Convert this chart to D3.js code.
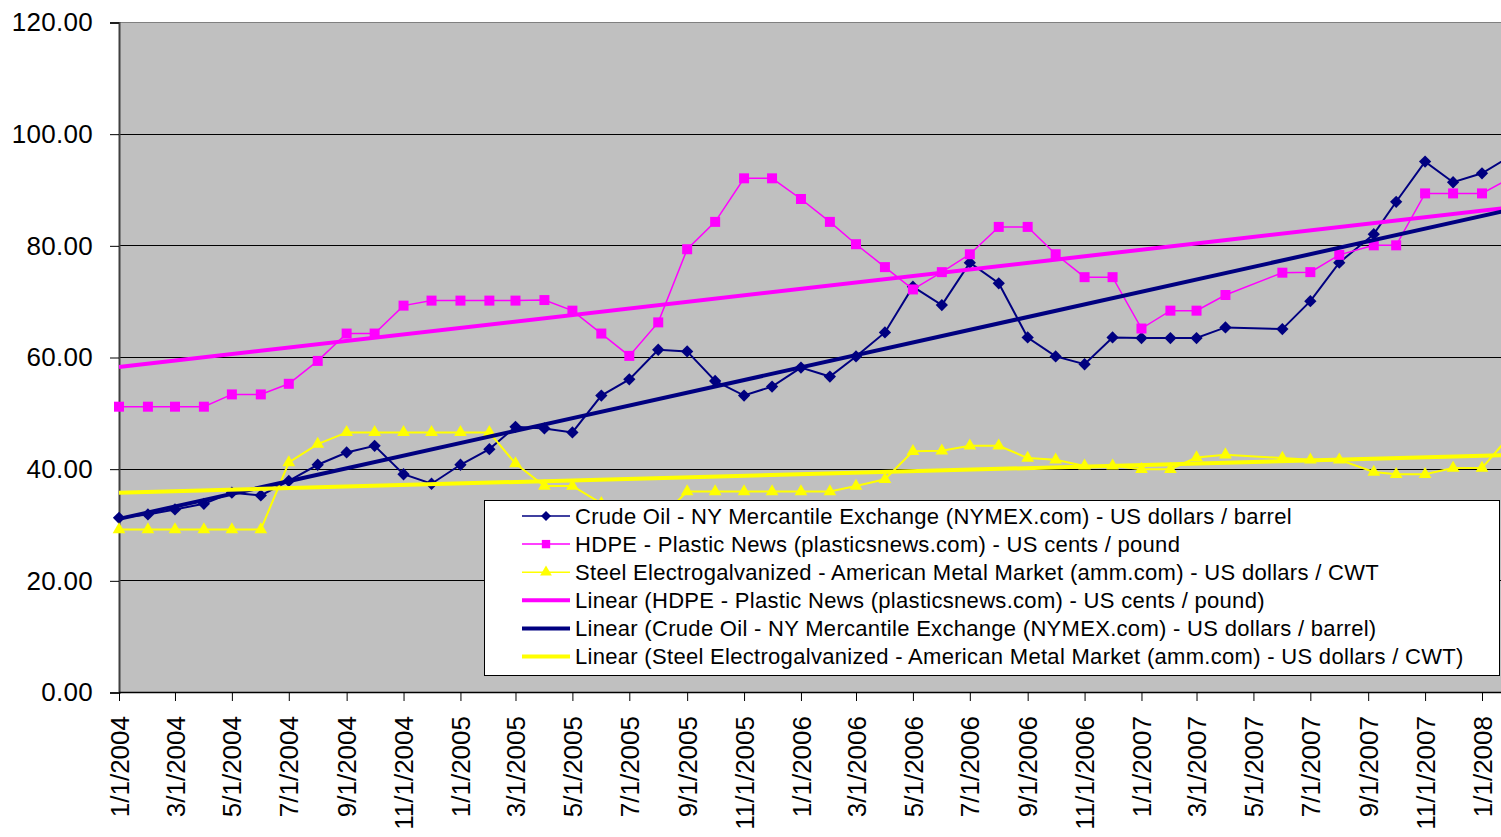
<!DOCTYPE html>
<html>
<head>
<meta charset="utf-8">
<script src="https://cdn.jsdelivr.net/npm/d3@7"></script>
<style>
  body { margin: 0; background: #fff; }
  svg { display: block; overflow: hidden; }
  text { font-family: "Liberation Sans", Arial, sans-serif; fill: #000; }
</style>
</head>
<body>
<svg id="chart"></svg>
<script>
// monthly observation dates (May 2007 missing, Sept 2007 reading taken on the 7th)
const dates = [
  "2004-01-01","2004-02-01","2004-03-01","2004-04-01","2004-05-01","2004-06-01",
  "2004-07-01","2004-08-01","2004-09-01","2004-10-01","2004-11-01","2004-12-01",
  "2005-01-01","2005-02-01","2005-03-01","2005-04-01","2005-05-01","2005-06-01",
  "2005-07-01","2005-08-01","2005-09-01","2005-10-01","2005-11-01","2005-12-01",
  "2006-01-01","2006-02-01","2006-03-01","2006-04-01","2006-05-01","2006-06-01",
  "2006-07-01","2006-08-01","2006-09-01","2006-10-01","2006-11-01","2006-12-01",
  "2007-01-01","2007-02-01","2007-03-01","2007-04-01","2007-06-01",
  "2007-07-01","2007-08-01","2007-09-07","2007-10-01","2007-11-01","2007-12-01",
  "2008-01-01","2008-02-01"
]

const crudeOil = [
  31.2, 31.8, 32.7, 33.7, 35.7, 35.2, 37.8, 40.7, 42.9, 44.1, 39.0, 37.3,
  40.7, 43.5, 47.5, 47.2, 46.5, 53.1, 56.0, 61.3, 61.0, 55.7, 53.1, 54.7,
  58.1, 56.5, 60.1, 64.4, 72.6, 69.3, 76.9, 73.2, 63.5, 60.1, 58.7, 63.5,
  63.4, 63.4, 63.4, 65.3, 65.0, 70.0, 76.9, 82.0, 87.8, 95.0, 91.3,
  92.9, 96.0
]

const hdpe = [
  51.1, 51.1, 51.1, 51.1, 53.3, 53.3, 55.2, 59.3, 64.2, 64.2, 69.2, 70.1,
  70.1, 70.1, 70.1, 70.2, 68.3, 64.2, 60.2, 66.2, 79.3, 84.2, 92.0, 92.0,
  88.3, 84.2, 80.2, 76.1, 72.1, 75.2, 78.4, 83.3, 83.3, 78.4, 74.3, 74.3,
  65.1, 68.3, 68.3, 71.1, 75.1, 75.2, 78.3, 80.0, 80.0, 89.3, 89.3,
  89.3, 92.1
]

const steel = [
  29.1, 29.1, 29.1, 29.1, 29.1, 29.1, 41.1, 44.4, 46.5, 46.5, 46.5, 46.5,
  46.5, 46.5, 40.9, 36.9, 36.9, 33.8, 32.0, 30.8, 35.9, 35.9, 35.9, 35.9,
  35.9, 35.9, 36.9, 38.1, 43.1, 43.2, 44.1, 44.1, 41.9, 41.6, 40.5, 40.5,
  39.9, 39.9, 42.0, 42.5, 41.9, 41.6, 41.6, 39.4, 39.0, 39.0, 40.1,
  40.1, 46.1
]

// linear trend lines, read at both ends
const trendDates = ["2004-01-01", "2008-02-01"]
const hdpeTrend  = [58.2, 86.8]
const crudeTrend = [31.0, 86.4]
const steelTrend = [35.7, 42.45]

const yTicks = [0, 20, 40, 60, 80, 100, 120]

const legendLabels = [
  "Crude Oil - NY Mercantile Exchange (NYMEX.com) - US dollars / barrel",
  "HDPE - Plastic News (plasticsnews.com) - US cents / pound",
  "Steel Electrogalvanized - American Metal Market (amm.com) - US dollars / CWT",
  "Linear (HDPE - Plastic News (plasticsnews.com) - US cents / pound)",
  "Linear (Crude Oil - NY Mercantile Exchange (NYMEX.com) - US dollars / barrel)",
  "Linear (Steel Electrogalvanized - American Metal Market (amm.com) - US dollars / CWT)"
]

const parseDate = d3.utcParse("%Y-%m-%d")
const W = 1501, H = 837
const plotLeft = 119, plotTop = 22, plotBottom = 692, plotRight = 1501

const svg = d3.select('#chart').attr('width', W).attr('height', H)

const x = d3.scaleUtc()
  .domain([parseDate("2004-01-01"), parseDate("2008-01-01")])
  .range([plotLeft, 1482])

const y = d3.scaleLinear().domain([0, 120]).range([plotBottom, plotTop])

// plot area
svg.append('rect')
  .attr('x', plotLeft).attr('y', plotTop)
  .attr('width', plotRight - plotLeft + 10).attr('height', plotBottom - plotTop)
  .attr('fill', '#c0c0c0')

// gridlines
svg.append('g')
  .selectAll('line')
  .data(yTicks.filter(d => d > 0))
  .join('line')
  .attr('x1', plotLeft).attr('x2', plotRight + 10)
  .attr('y1', d => Math.round(y(d)) + 0.5).attr('y2', d => Math.round(y(d)) + 0.5)
  .attr('stroke', d => d === 120 ? '#808080' : '#000')
  .attr('stroke-width', 1)

// y axis
const yAxis = svg.append('g')
  .attr('transform', 'translate(' + plotLeft + ',0.5)')
  .call(d3.axisLeft(y).tickValues(yTicks).tickFormat(d3.format('.2f')).tickSize(9).tickPadding(17))
yAxis.select('.domain').attr('stroke', '#404040').attr('stroke-width', 2)
yAxis.selectAll('.tick line').attr('stroke', '#000')
yAxis.selectAll('text').attr('font-size', '26px').attr('fill', '#000')
  .attr('letter-spacing', '0.3px')
  .style('font-family', '"Liberation Sans", Arial, sans-serif')

// x axis
const xTicks = d3.utcMonth.every(2).range(parseDate("2004-01-01"), parseDate("2008-01-02"))
const xAxis = svg.append('g')
  .attr('transform', 'translate(0,' + plotBottom + ')')
  .call(d3.axisBottom(x).tickValues(xTicks).tickFormat(d3.utcFormat('%-m/%-d/%Y')).tickSize(9).tickSizeOuter(0))
xAxis.select('.domain').attr('d', 'M' + plotLeft + ',0.5H' + (plotRight + 10)).attr('stroke', '#000').attr('stroke-width', 1.5)
xAxis.selectAll('.tick line').attr('stroke', '#000')
xAxis.selectAll('text')
  .attr('font-size', '26px')
  .attr('fill', '#000')
  .style('font-family', '"Liberation Sans", Arial, sans-serif')
  .attr('text-anchor', 'end')
  .attr('transform', 'rotate(-90)')
  .attr('x', -24)
  .attr('y', 0)
  .attr('dy', '0.35em')

// series
const series = [
  { name: 'crude', values: crudeOil, color: '#000080', width: 2, marker: 'diamond' },
  { name: 'hdpe', values: hdpe, color: '#ff00ff', width: 1.5, marker: 'square' },
  { name: 'steel', values: steel, color: '#ffff00', width: 2, marker: 'triangle' }
]

const markerPath = {
  diamond: d3.symbol().type(d3.symbolDiamond2).size(96),
  square: d3.symbol().type(d3.symbolSquare).size(100),
  triangle: d3.symbol().type(d3.symbolTriangle).size(70)
}
const legendMarker = {
  diamond: d3.symbol().type(d3.symbolDiamond2).size(64),
  square: d3.symbol().type(d3.symbolSquare).size(70),
  triangle: d3.symbol().type(d3.symbolTriangle).size(60)
}

const line = d3.line()
  .x(d => x(d.date))
  .y(d => y(d.value))

series.forEach(s => {
  const pts = dates.map((dt, i) => ({ date: parseDate(dt), value: s.values[i] }))
  svg.append('path')
    .datum(pts)
    .attr('fill', 'none')
    .attr('stroke', s.color)
    .attr('stroke-width', s.width)
    .attr('d', line)

  svg.append('g')
    .selectAll('path')
    .data(pts)
    .join('path')
    .attr('transform', d => 'translate(' + x(d.date) + ',' + y(d.value) + ')')
    .attr('d', markerPath[s.marker])
    .attr('fill', s.color)
})

// trend lines
const trends = [
  { values: hdpeTrend, color: '#ff00ff' },
  { values: crudeTrend, color: '#000080' },
  { values: steelTrend, color: '#ffff00' }
]
trends.forEach(t => {
  svg.append('path')
    .datum(trendDates.map((dt, i) => ({ date: parseDate(dt), value: t.values[i] })))
    .attr('fill', 'none')
    .attr('stroke', t.color)
    .attr('stroke-width', 4)
    .attr('d', line)
})

// legend
const legend = svg.append('g')
legend.append('rect')
  .attr('x', 484.5).attr('y', 500.5)
  .attr('width', 1015).attr('height', 175)
  .attr('fill', '#fff').attr('stroke', '#000').attr('stroke-width', 1)

const legendStyle = [
  { color: '#000080', width: 1.5, marker: 'diamond' },
  { color: '#ff00ff', width: 1.5, marker: 'square' },
  { color: '#ffff00', width: 1.5, marker: 'triangle' },
  { color: '#ff00ff', width: 4, marker: null },
  { color: '#000080', width: 4, marker: null },
  { color: '#ffff00', width: 4, marker: null }
]

legendLabels.forEach((label, i) => {
  const ly = 516 + i * 28.1
  const st = legendStyle[i]
  legend.append('line')
    .attr('x1', 522).attr('x2', 570)
    .attr('y1', ly).attr('y2', ly)
    .attr('stroke', st.color).attr('stroke-width', st.width)
  if (st.marker) {
    legend.append('path')
      .attr('transform', 'translate(546,' + ly + ')')
      .attr('d', legendMarker[st.marker]())
      .attr('fill', st.color)
  }
  legend.append('text')
    .attr('x', 575).attr('y', ly)
    .attr('dy', '0.36em')
    .attr('font-size', '22px')
    .attr('letter-spacing', '0.3px')
    .text(label)
})
</script>
</body>
</html>
